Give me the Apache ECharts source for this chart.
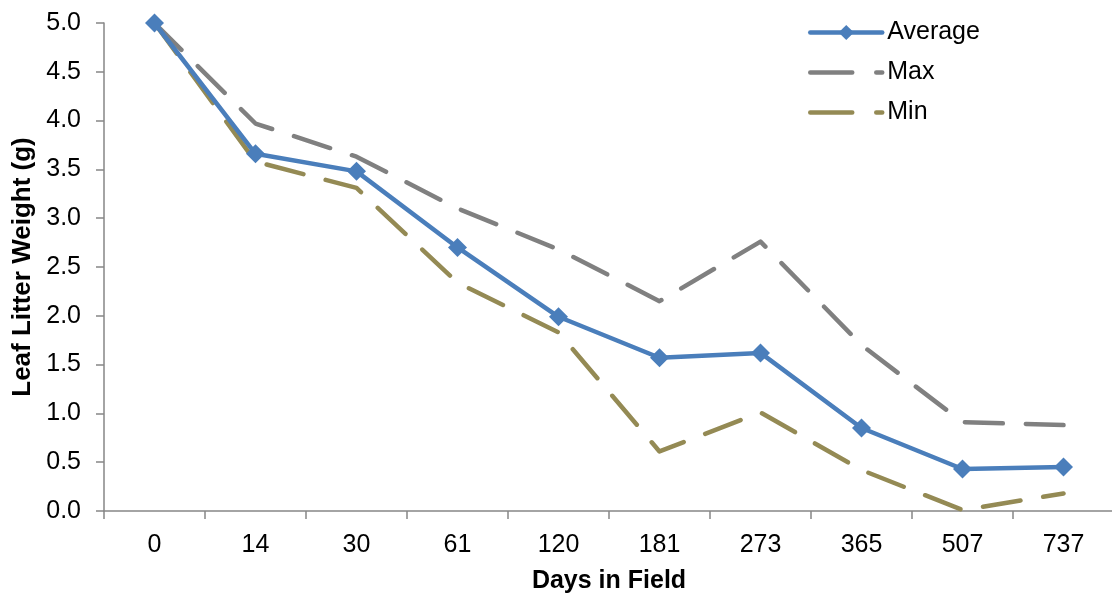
<!DOCTYPE html>
<html>
<head>
<meta charset="utf-8">
<script src="https://cdn.jsdelivr.net/npm/echarts@6/dist/echarts.min.js"></script>
<style>html,body{margin:0;padding:0;background:#fff}#c{width:1112px;height:594px}</style>
</head>
<body>
<div id="c"></div>
<script>
const categories = ['0','14','30','61','120','181','273','365','507','737'];
const averageValues = [5.0, 3.66, 3.48, 2.70, 1.99, 1.57, 1.62, 0.85, 0.43, 0.45];
const maxValues = [5.0, 3.97, 3.63, 3.10, 2.68, 2.15, 2.76, 1.70, 0.91, 0.88];
const minValues = [5.0, 3.58, 3.31, 2.34, 1.83, 0.61, 1.01, 0.42, 0.01, 0.18];
const yTicks = {min: 0, max: 5, interval: 0.5};

const font = '"Liberation Sans", Arial, sans-serif';
const axisColor = '#868686';
const avgColor = '#4A7EBB';
const maxColor = '#808080';
const minColor = '#948A54';
const dash = [38, 23];
const chart = echarts.init(document.getElementById('c'), null, {renderer: 'canvas'});
chart.setOption({
  animation: false,
  backgroundColor: '#fff',
  grid: {left: 104, right: -2, top: 23, bottom: 83, outerBoundsMode: 'none', containLabel: false},
  legend: {
    orient: 'vertical',
    left: 803, top: 15,
    itemWidth: 72, itemHeight: 19, itemGap: 15,
    textStyle: {fontFamily: font, fontSize: 25, color: '#000'},
    data: [
      {name: 'Average', lineStyle: {width: 4.5, color: avgColor, cap: 'round'}, itemStyle: {color: avgColor}},
      {name: 'Max', lineStyle: {width: 4.5, color: maxColor, type: [42, 24], cap: 'round'}, itemStyle: {opacity: 0}},
      {name: 'Min', lineStyle: {width: 4.5, color: minColor, type: [42, 24], cap: 'round'}, itemStyle: {opacity: 0}}
    ]
  },
  xAxis: {
    type: 'category',
    data: categories,
    boundaryGap: true,
    name: 'Days in Field',
    nameLocation: 'middle',
    nameGap: 58,
    nameTextStyle: {fontFamily: font, fontSize: 25, fontWeight: 'bold', color: '#000'},
    axisLine: {lineStyle: {color: axisColor, width: 1.5}},
    axisTick: {show: true, length: 8, inside: false, alignWithLabel: false, lineStyle: {color: axisColor, width: 1.5}},
    axisLabel: {fontFamily: font, fontSize: 25, color: '#000', margin: 22, interval: 0},
    splitLine: {show: false}
  },
  yAxis: {
    type: 'value',
    min: yTicks.min, max: yTicks.max, interval: yTicks.interval,
    name: 'Leaf Litter Weight (g)',
    nameLocation: 'middle',
    nameGap: 66,
    nameRotate: 90,
    nameTextStyle: {fontFamily: font, fontSize: 26, fontWeight: 'bold', color: '#000'},
    axisLine: {show: true, lineStyle: {color: axisColor, width: 1.5}},
    axisTick: {show: true, length: 8, lineStyle: {color: axisColor, width: 1.5}},
    axisLabel: {fontFamily: font, fontSize: 25, color: '#000', margin: 23, formatter: v => v.toFixed(1)},
    splitLine: {show: false}
  },
  series: [
    {
      name: 'Max', type: 'line', data: maxValues, z: 2,
      symbol: 'none', color: maxColor,
      lineStyle: {color: maxColor, width: 4.5, type: dash, cap: 'round', join: 'round'}
    },
    {
      name: 'Min', type: 'line', data: minValues, z: 2,
      symbol: 'none', color: minColor,
      lineStyle: {color: minColor, width: 4.5, type: dash, cap: 'round', join: 'round'}
    },
    {
      name: 'Average', type: 'line', data: averageValues, z: 3,
      symbol: 'diamond', symbolSize: 19, color: avgColor,
      itemStyle: {color: avgColor},
      lineStyle: {color: avgColor, width: 4.5, cap: 'round', join: 'round'}
    }
  ]
});
</script>
</body>
</html>
